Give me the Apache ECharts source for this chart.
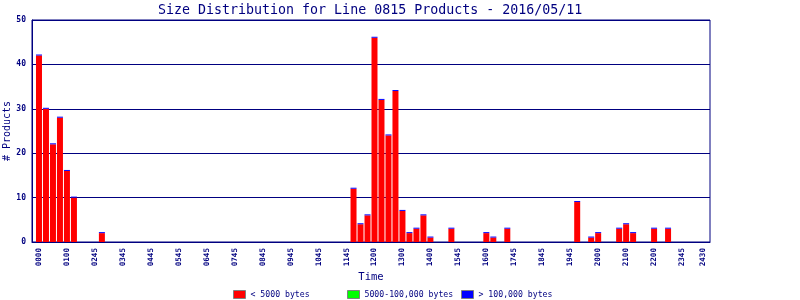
<!DOCTYPE html>
<html><head><meta charset="utf-8">
<script src="https://cdn.jsdelivr.net/npm/echarts@6/dist/echarts.min.js"></script>
<style>html,body{margin:0;padding:0;background:#fff}#c{width:800px;height:300px}</style>
</head><body><div id="c"></div>
<script>
const _ = null;
// Tick labels shown every 4th time slot, plus the closing label on the last slot
const tickLabels = ['0000','0100','0245','0345','0445','0545','0645','0745','0845','0945','1045','1145',
                    '1200','1300','1400','1545','1600','1745','1845','1945','2000','2100','2200','2345'];
const endLabel = '2430';
const slotCount = 96;

// # products per slot (slot 0 .. 95)
const under5k = [
  42,30,22,28,16,10,_,_,_,2,_,_,
  _,_,_,_,_,_,_,_,_,_,_,_,
  _,_,_,_,_,_,_,_,_,_,_,_,
  _,_,_,_,_,_,_,_,_,12,4,6,
  46,32,24,34,7,2,3,6,1,_,_,3,
  _,_,_,_,2,1,_,3,_,_,_,_,
  _,_,_,_,_,9,_,1,2,_,_,3,
  4,2,_,_,3,_,3,_,_,_,_,_
];
const from5kTo100k = [
  0,0,0,0,0,0,_,_,_,0,_,_,
  _,_,_,_,_,_,_,_,_,_,_,_,
  _,_,_,_,_,_,_,_,_,_,_,_,
  _,_,_,_,_,_,_,_,_,0,0,0,
  0,0,0,0,0,0,0,0,0,_,_,0,
  _,_,_,_,0,0,_,0,_,_,_,_,
  _,_,_,_,_,0,_,0,0,_,_,0,
  0,0,_,_,0,_,0,_,_,_,_,_
];
const over100k = [
  0,0,0,0,0,0,_,_,_,0,_,_,
  _,_,_,_,_,_,_,_,_,_,_,_,
  _,_,_,_,_,_,_,_,_,_,_,_,
  _,_,_,_,_,_,_,_,_,0,0,0,
  0,0,0,0,0,0,0,0,0,_,_,0,
  _,_,_,_,0,0,_,0,_,_,_,_,
  _,_,_,_,_,0,_,0,0,_,_,0,
  0,0,_,_,0,_,0,_,_,_,_,_
];
const seriesNames = ['< 5000 bytes','5000-100,000 bytes','> 100,000 bytes'];
const seriesColors = ['#ff0000','#00ff00','#0000ff'];

// categories: one padding slot on each side
const slots = [];
for (let i = 0; i < slotCount; i++) {
  if (i === slotCount - 1) slots.push(endLabel);
  else if (i % 4 === 0) slots.push(tickLabels[i / 4]);
  else slots.push(tickLabels[Math.floor(i / 4)] + '#' + (i % 4));
}
const categories = ['padL'].concat(slots, ['padR']);
const pad = arr => [null].concat(arr, [null]);

const NAVY = '#000080';
const FONT = 'DejaVu Sans Mono';
const chart = echarts.init(document.getElementById('c'), null, {renderer: 'canvas'});

const shown = idx => {
  const i = idx - 1;
  if (i < 0 || i >= slotCount) return false;
  return i === slotCount - 1 || (i % 4 === 0 && i <= 92);
};

const legendBase = (name, left) => ({
  data: [name], left: left, top: 290, padding: 0,
  itemWidth: 12, itemHeight: 8, icon: 'rect',
  itemStyle: {borderColor: '#808080', borderWidth: 1},
  textStyle: {color: NAVY, fontFamily: FONT, fontSize: 8.2},
  selectedMode: false
});

chart.setOption({
  animation: false,
  backgroundColor: '#ffffff',
  title: {
    text: 'Size Distribution for Line 0815 Products - 2016/05/11',
    left: 158, top: 4, padding: 0,
    textStyle: {color: NAVY, fontFamily: FONT, fontSize: 13.3, fontWeight: 'normal'}
  },
  legend: [
    legendBase(seriesNames[0], 233),
    legendBase(seriesNames[1], 347),
    legendBase(seriesNames[2], 461)
  ],
  grid: {left: 32, right: 90, top: 20, bottom: 58, containLabel: false, outerBoundsMode: 'none',
         show: true, borderColor: NAVY, borderWidth: 1, backgroundColor: 'transparent'},
  xAxis: {
    type: 'category', data: categories, boundaryGap: false,
    name: 'Time', nameLocation: 'middle', nameGap: 30, nameMoveOverlap: false,
    nameTextStyle: {color: NAVY, fontFamily: FONT, fontSize: 10.5},
    axisLine: {lineStyle: {color: NAVY, width: 1}},
    axisTick: {show: false},
    axisLabel: {
      interval: (idx) => shown(idx), rotate: 90, margin: 6,
      color: NAVY, fontFamily: FONT, fontSize: 7.6, fontWeight: 'bold',
      hideOverlap: false
    },
    splitLine: {show: false}
  },
  yAxis: {
    type: 'value', min: 0, max: 50, interval: 10,
    name: '# Products', nameLocation: 'middle', nameGap: 20, nameRotate: 90, nameMoveOverlap: false,
    nameTextStyle: {color: NAVY, fontFamily: FONT, fontSize: 10},
    axisLine: {show: true, lineStyle: {color: NAVY, width: 1}},
    axisTick: {show: false},
    axisLabel: {margin: 6, color: NAVY, fontFamily: FONT, fontSize: 8, fontWeight: 'bold'},
    splitLine: {show: true, lineStyle: {color: NAVY, width: 1}}
  },
  series: [
    {name: seriesNames[0], type: 'bar', stack: 'all', barWidth: 6, data: pad(under5k), itemStyle: {color: seriesColors[0]}},
    {name: seriesNames[1], type: 'bar', stack: 'all', barWidth: 6, data: pad(from5kTo100k), itemStyle: {color: seriesColors[1]}},
    {name: seriesNames[2], type: 'bar', stack: 'all', barWidth: 6, barMinHeight: 1, data: pad(over100k), itemStyle: {color: seriesColors[2]}}
  ]
});
</script>
</body></html>
